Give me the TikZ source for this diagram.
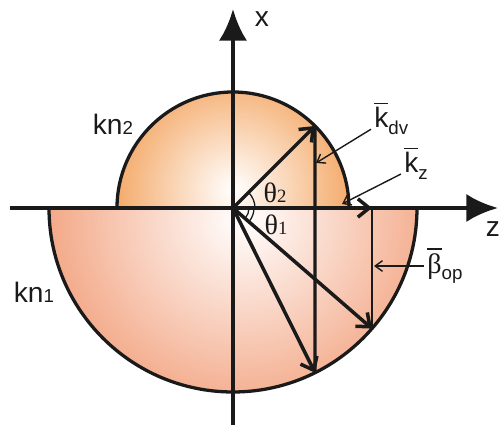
\documentclass[tikz,border=0pt]{standalone}
\usepackage{fontspec}
\setmainfont{Liberation Sans}
\newfontfamily\greekfont{Liberation Serif}
\usetikzlibrary{arrows.meta}
\definecolor{upperfill}{HTML}{F29A4E}
\definecolor{lowerfill}{HTML}{F2A07C}
\definecolor{ink}{HTML}{1A1A1A}
\newcommand\barred[1]{\begingroup\setbox0\hbox{#1}\rlap{\raisebox{\dimexpr\ht0+3pt\relax}{\rule{\wd0}{1.1pt}}}\box0\endgroup}
\newcommand\lowsub[1]{\raisebox{-0.45ex}{\fontsize{16}{16}\selectfont #1}}
\newcommand\smallsub[1]{{\fontsize{16}{16}\selectfont #1}}

\begin{document}
\begin{tikzpicture}[x=0.03cm,y=0.03cm,>=Stealth,
 axis/.style={draw=ink,line width=3.8pt,-{Latex[length=0.95cm,width=0.85cm]}},
 rim/.style={draw=ink,line width=2.8pt},
 vec/.style={draw=ink,line width=3pt,-{Straight Barb[length=0.34cm,width=0.55cm,line width=3pt]}},
 proj/.style={draw=ink,line width=2.6pt},
 pointer/.style={draw=ink,line width=1.2pt,shorten <=2pt,-{Straight Barb[length=0.22cm,width=0.32cm]}},
 lbl/.style={text=ink,font=\fontsize{24}{28}\selectfont,inner sep=1pt}]

\useasboundingbox (-233,-224) rectangle (268,208);

% shaded halves
\begin{scope}
\clip (116,0) arc (0:180:116) -- cycle;
\shade[inner color=white,outer color=upperfill] (0,18) circle (140);
\end{scope}
\begin{scope}
\clip (-184,0) arc (180:360:184) -- cycle;
\shade[inner color=white,outer color=lowerfill] (10,-10) circle (215);
\end{scope}

\coordinate (O) at (0,0);
\coordinate (A) at (45:116);
\coordinate (B) at (82,-164.7);
\coordinate (C) at (139,0);
\coordinate (D) at (139,-120.6);

\draw[rim] (116,0) arc (0:180:116);
\draw[rim] (-184,0) arc (180:360:184);

% axes
\coordinate (zstart) at (-223,0);
\coordinate (zend) at (265,0);
\coordinate (xstart) at (0,-217);
\coordinate (xend) at (0,199);
\draw[axis] (zstart) -- (zend);
\draw[axis] (xstart) -- (xend);

% vectors
\draw[proj] (A) -- (B);
\draw[proj,line width=1.7pt] (C) -- (D);
\foreach \p in {A,B,C,D}\draw[vec] (O) -- (\p);

% angles
\draw[ink,line width=1.1pt] (22,0) arc (0:45:22);
\draw[ink,line width=1.1pt] (16,0) arc (0:-39:16);
\draw[ink,line width=1.1pt] (21,0) arc (0:-39:21);

% labels
\node[lbl] (xlbl) at (29,189) {x};
\node[lbl] (zlbl) at (260,-21) {z};
\node[lbl] (kn2) at (-120,84) {kn\smallsub{2}};
\node[lbl] (kn1) at (-199,-84) {kn\smallsub{1}};
\node[lbl] (th2) at (42,15) {\greekfont θ\smallsub{2}};
\node[lbl] (th1) at (43,-17) {\greekfont θ\smallsub{1}};
\node[lbl,anchor=base west] (kdv) at (140,80) {\barred{k}\lowsub{dv}};
\node[lbl,anchor=base west] (kz) at (170,35) {\barred{k}\lowsub{z}};
\node[lbl,anchor=west] (bop) at (193,-58) {\barred{\greekfont β}\lowsub{op}};

% pointers
\coordinate (kdvtip) at (83,45);
\coordinate (kztip) at (109,4);
\coordinate (boptip) at (141,-58);
\draw[pointer] (kdv.base west) -- (kdvtip);
\draw[pointer] (kz.base west) -- (kztip);
\draw[pointer] (bop.west) -- (boptip);
\end{tikzpicture}
\end{document}
